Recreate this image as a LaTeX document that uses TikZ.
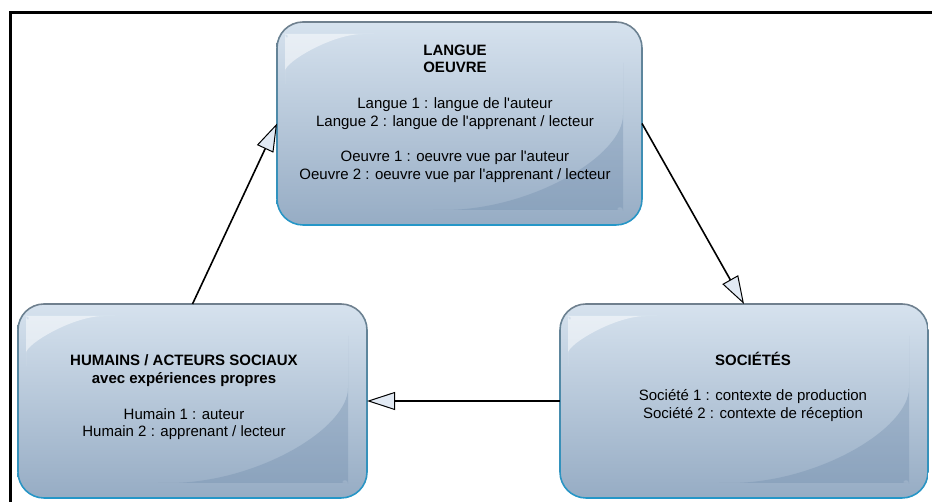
\documentclass[tikz,border=0pt]{standalone}
\usepackage{fontspec}
\setmainfont{Liberation Sans}[Ligatures=TeXOff]
\usetikzlibrary{calc}
\usetikzlibrary{arrows.meta}
\usepackage{xcolor}

\definecolor{boxtop}{RGB}{214,226,238}
\definecolor{boxbot}{RGB}{150,172,196}
\definecolor{edgetop}{RGB}{112,128,142}
\definecolor{edgebot}{RGB}{36,150,200}
\definecolor{swoosh}{RGB}{112,140,172}
\definecolor{tipfill}{RGB}{226,234,244}

\tikzset{
  box/.style={rectangle, rounded corners=26pt, outer sep=0pt, inner sep=0pt,
    top color=boxtop, bottom color=boxbot,
    path picture={
      \coordinate (nw) at (path picture bounding box.north west);
      \coordinate (se) at (path picture bounding box.south east);
      \fill[white, opacity=0.5] ($(nw)+(8pt,-75pt)$) -- ($(nw)+(8pt,-36pt)$)
        .. controls ($(nw)+(8pt,-22pt)$) and ($(nw)+(16pt,-12pt)$) .. ($(nw)+(32pt,-12pt)$)
        -- ($(nw)+(112pt,-12pt)$)
        .. controls ($(nw)+(55pt,-12pt)$) and ($(nw)+(8pt,-40pt)$) .. ($(nw)+(8pt,-75pt)$) -- cycle;
      \fill[swoosh, opacity=0.35] ($(se)+(-19pt,136pt)$) -- ($(se)+(-19pt,40pt)$)
        .. controls ($(se)+(-19pt,22pt)$) and ($(se)+(-30pt,15pt)$) .. ($(se)+(-48pt,15pt)$)
        -- ($(se)+(-224pt,15pt)$)
        .. controls ($(se)+(-111pt,15pt)$) and ($(se)+(-19pt,69pt)$) .. ($(se)+(-19pt,136pt)$) -- cycle;
    }},
  txt/.style={align=center, font=\fontsize{15}{17.7}\selectfont},
  link/.style={line width=1.6pt, -{Triangle[length=28pt, width=18pt, fill=tipfill, line width=1pt]}}
}

\begin{document}
\begin{tikzpicture}[x=1pt,y=1pt]
\useasboundingbox (0,0) rectangle (932,502);
\draw[line width=2.3pt] (10.5,0) -- (10.5,489.5) -- (932,489.5);

\node[box, minimum width=365pt, minimum height=203pt] (langue) at (459.5,378.5) {};
\node[box, minimum width=349pt, minimum height=194pt] (humains) at (192.5,101) {};
\node[box, minimum width=368pt, minimum height=194pt] (societes) at (744,101) {};

% bords : gris en haut, bleu en bas
\foreach \b in {langue,humains,societes}
  \path[top color=edgetop, bottom color=edgebot, even odd rule]
    [rounded corners=26.8pt] ([shift={(-0.8pt,0.8pt)}]\b.north west) rectangle ([shift={(0.8pt,-0.8pt)}]\b.south east)
    [rounded corners=25.2pt] ([shift={(0.8pt,-0.8pt)}]\b.north west) rectangle ([shift={(-0.8pt,0.8pt)}]\b.south east);

\node[txt] (languetxt) at ([shift={(-4.5pt,10pt)}]langue.center)
  {\textbf{LANGUE}\\ \textbf{OEUVRE}\\[17.7pt]
   Langue 1 : langue de l'auteur\\ Langue 2 : langue de l'apprenant / lecteur\\[17.7pt]
   Oeuvre 1 : oeuvre vue par l'auteur\\ Oeuvre 2 : oeuvre vue par l'apprenant / lecteur};
\node[txt] (humainstxt) at ([shift={(-8.5pt,3.5pt)}]humains.center)
  {\textbf{HUMAINS / ACTEURS SOCIAUX}\\ \textbf{avec expériences propres}\\[17.7pt]
   Humain 1 : auteur\\ Humain 2 : apprenant / lecteur};
\node[txt] (societestxt) at ([shift={(9pt,14.5pt)}]societes.center)
  {\textbf{SOCIÉTÉS}\\[17.7pt]
   Société 1 : contexte de production\\ Société 2 : contexte de réception};

\draw[link] (humains.north) -- (langue.west);
\draw[link] (langue.east) -- (societes.north);
\draw[link] (societes.west) -- (humains.east);

\end{tikzpicture}
\end{document}
